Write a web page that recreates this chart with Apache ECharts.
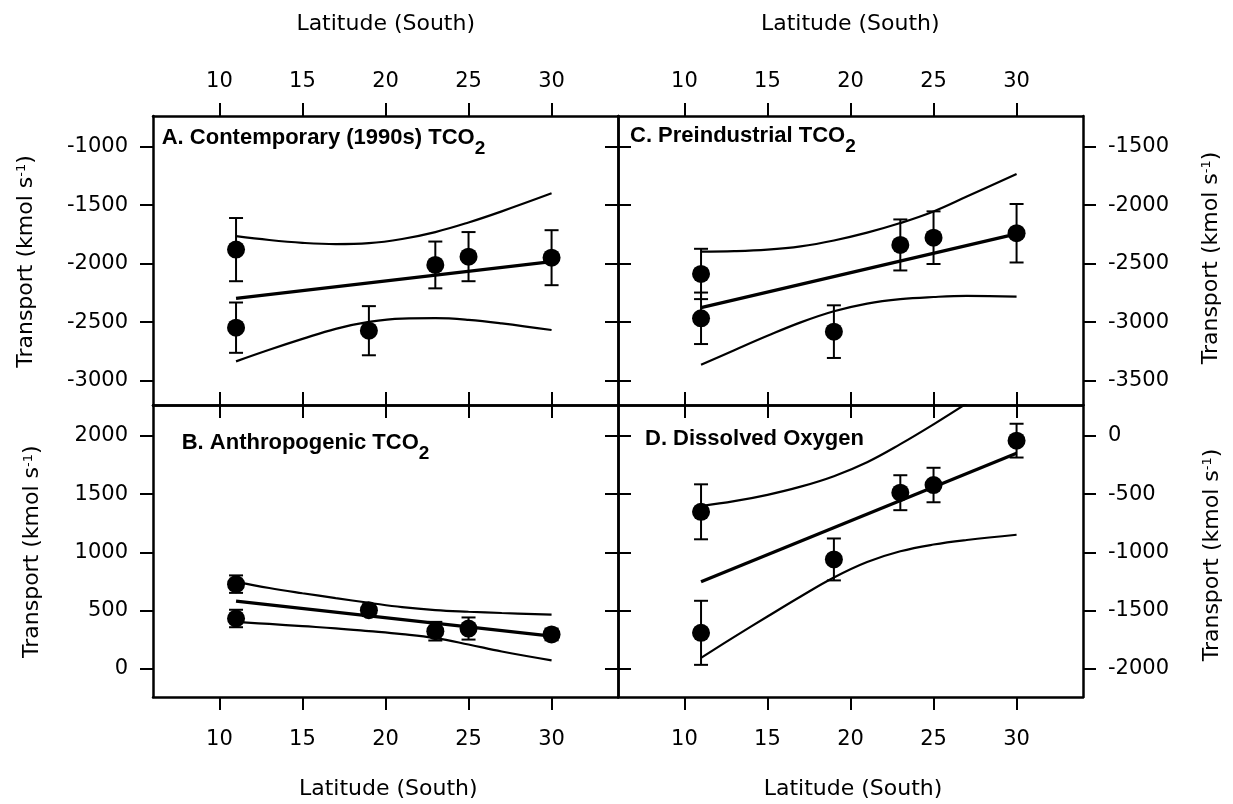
<!DOCTYPE html>
<html><head><meta charset="utf-8">
<script src="https://cdn.jsdelivr.net/npm/echarts@6/dist/echarts.min.js"></script>
<style>html,body{margin:0;padding:0;background:#fff}#c{width:1233px;height:804px}</style>
</head><body><div id="c"></div>
<script>
// ---- data ----
const pointLat = [11, 11, 19, 23, 25, 30];
const aVal = [-1880, -2547, -2573, -2011, -1940, -1949];
const aErr = [270, 215, 210, 200, 210, 235];
const bVal = [728, 433, 504, 324, 347, 296];
const bErr = [75, 75, 50, 80, 95, 50];
const cVal = [-2588, -2967, -3081, -2340, -2278, -2240];
const cErr = [215, 220, 225, 218, 225, 250];
const dVal = [-651, -1690, -1060, -487, -421, -40];
const dErr = [236, 275, 180, 150, 148, 145];

const fitLat = [11, 30];
const aFit = [-2296, -1983];
const bFit = [582, 281];
const cFit = [-2876, -2246];
const dFit = [-1252, -149];

const ciLat = [11, 13, 15, 17, 19, 21, 23, 25, 27, 30];
const aUpper = [-1765, -1798, -1822, -1833, -1825, -1789, -1730, -1648, -1553, -1399];
const aLower = [-2835, -2736, -2643, -2557, -2498, -2469, -2466, -2480, -2510, -2567];
const bUpper = [748, 695, 650, 608, 568, 530, 505, 491, 480, 467];
const bLower = [404, 386, 367, 349, 325, 299, 265, 210, 150, 74];
const cUpper = [-2397, -2393, -2380, -2352, -2302, -2235, -2153, -2054, -1927, -1733];
const cLower = [-3365, -3240, -3117, -3002, -2907, -2841, -2803, -2785, -2776, -2782];
const dUpper = [-602, -560, -505, -435, -345, -225, -70, 100, 280, 560];
const dLower = [-1905, -1725, -1550, -1378, -1215, -1082, -990, -932, -893, -848];

const xTicks = [10, 15, 20, 25, 30];
const yTicksA = [-3000, -2500, -2000, -1500, -1000];
const yTicksB = [0, 500, 1000, 1500, 2000];
const yTicksC = [-3500, -3000, -2500, -2000, -1500];
const yTicksD = [-2000, -1500, -1000, -500, 0];

const titleA = 'A. Contemporary (1990s) TCO';
const titleB = 'B. Anthropogenic TCO';
const titleC = 'C. Preindustrial TCO';
const titleD = 'D. Dissolved Oxygen';
const xName = 'Latitude (South)';
const yName = 'Transport (kmol s';

// ---- chart ----
const TICKFONT = 'DejaVu Sans';
const panels = [
  {grid:{left:153, top:116, width:465, height:289}, val:aVal, err:aErr, fit:aFit, up:aUpper, lo:aLower, yMin:-3208, yMax:-738, yTicks:yTicksA, top:'out', bottom:'in', left:'out', right:'in'},
  {grid:{left:153, top:405, width:465, height:292}, val:bVal, err:bErr, fit:bFit, up:bUpper, lo:bLower, yMin:-241, yMax:2266, yTicks:yTicksB, top:'in', bottom:'out', left:'out', right:'in'},
  {grid:{left:618, top:116, width:465, height:289}, val:cVal, err:cErr, fit:cFit, up:cUpper, lo:cLower, yMin:-3708, yMax:-1238, yTicks:yTicksC, top:'out', bottom:'in', left:'in', right:'out'},
  {grid:{left:618, top:405, width:465, height:292}, val:dVal, err:dErr, fit:dFit, up:dUpper, lo:dLower, yMin:-2241, yMax:266, yTicks:yTicksD, top:'in', bottom:'out', left:'in', right:'out'}
];

function axisCommon(side, ticks, margin) {
  const out = side === 'out';
  return {
    axisLine: {show: true, onZero: false, lineStyle: {color: '#000', width: 2.5}},
    axisTick: {show: true, inside: !out, length: 13, customValues: ticks, lineStyle: {color: '#000', width: 2}},
    axisLabel: {show: out, customValues: ticks, margin: margin, color: '#000', fontSize: 21, fontFamily: TICKFONT, formatter: v => String(v)},
    splitLine: {show: false}
  };
}

const grids = [], xAxes = [], yAxes = [], series = [];
function errRender(params, api) {
  const x = api.value(0), y = api.value(1), e = api.value(2);
  const t = api.coord([x, y + e]);
  const b = api.coord([x, y - e]);
  const hw = 7;
  const st = {stroke: '#000', lineWidth: 2};
  return {type: 'group', children: [
    {type: 'line', shape: {x1: t[0], y1: t[1], x2: b[0], y2: b[1]}, style: st},
    {type: 'line', shape: {x1: t[0] - hw, y1: t[1], x2: t[0] + hw, y2: t[1]}, style: st},
    {type: 'line', shape: {x1: b[0] - hw, y1: b[1], x2: b[0] + hw, y2: b[1]}, style: st}
  ]};
}

panels.forEach((p, i) => {
  grids.push(p.grid);
  xAxes.push(Object.assign({type: 'value', gridIndex: i, position: 'top', min: 6, max: 34}, axisCommon(p.top, xTicks, 24)));
  xAxes.push(Object.assign({type: 'value', gridIndex: i, position: 'bottom', min: 6, max: 34}, axisCommon(p.bottom, xTicks, 32)));
  yAxes.push(Object.assign({type: 'value', gridIndex: i, position: 'left', min: p.yMin, max: p.yMax}, axisCommon(p.left, p.yTicks, 25)));
  yAxes.push(Object.assign({type: 'value', gridIndex: i, position: 'right', min: p.yMin, max: p.yMax}, axisCommon(p.right, p.yTicks, 25)));
  const xi = 2 * i + 1, yi = 2 * i;
  const lineBase = {type: 'line', xAxisIndex: xi, yAxisIndex: yi, showSymbol: false, symbol: 'none', silent: true, clip: true};
  series.push(Object.assign({}, lineBase, {smooth: 0.4, data: ciLat.map((x, k) => [x, p.up[k]]), lineStyle: {color: '#000', width: 2.2}}));
  series.push(Object.assign({}, lineBase, {smooth: 0.4, data: ciLat.map((x, k) => [x, p.lo[k]]), lineStyle: {color: '#000', width: 2.2}}));
  series.push(Object.assign({}, lineBase, {data: fitLat.map((x, k) => [x, p.fit[k]]), lineStyle: {color: '#000', width: 3.3}}));
  series.push({type: 'custom', xAxisIndex: xi, yAxisIndex: yi, renderItem: errRender, silent: true,
    encode: {x: 0, y: 1}, data: pointLat.map((x, k) => [x, p.val[k], p.err[k]]), z: 3});
  series.push({type: 'scatter', xAxisIndex: xi, yAxisIndex: yi, symbol: 'circle', symbolSize: 18, silent: true,
    itemStyle: {color: '#000', opacity: 1}, data: pointLat.map((x, k) => [x, p.val[k]]), z: 4});
});

const titleRich = {
  t: {fontFamily: 'Liberation Sans', fontWeight: 'bold', fontSize: 22, lineHeight: 22, verticalAlign: 'top', fill: '#000'},
  s: {fontFamily: 'Liberation Sans', fontWeight: 'bold', fontSize: 19, lineHeight: 20, padding: [13, 0, 0, 0], verticalAlign: 'top', fill: '#000'}
};
function panelTitle(txt, sub, x, y) {
  return {type: 'text', x: x, y: y, silent: true, style: {
    text: '{t|' + txt + '}' + (sub ? '{s|' + sub + '}' : ''), rich: titleRich, align: 'left', verticalAlign: 'top'}};
}
const nameRich = {
  a: {fontFamily: 'DejaVu Sans', fontSize: 22, lineHeight: 26, verticalAlign: 'top', fill: '#000'},
  b: {fontFamily: 'DejaVu Sans', fontSize: 13, lineHeight: 12, verticalAlign: 'top', fill: '#000'}
};
function yTitle(x, y) {
  return {type: 'text', x: x, y: y, rotation: Math.PI / 2, silent: true, style: {
    text: '{a|' + yName + '}{b|-1}{a|)}', rich: nameRich, align: 'center', verticalAlign: 'middle'}};
}
function xTitle(x, y) {
  return {type: 'text', x: x, y: y, silent: true, style: {
    text: xName, fontFamily: 'DejaVu Sans', fontSize: 22, fill: '#000', align: 'center', verticalAlign: 'middle'}};
}

const graphic = [
  panelTitle(titleA, '2', 161.7, 126.5),
  panelTitle(titleB, '2', 181.7, 431.5),
  panelTitle(titleC, '2', 630, 124.5),
  panelTitle(titleD, '', 645, 427.8),
  xTitle(385.7, 24), xTitle(850.3, 24), xTitle(388.3, 789.5), xTitle(853, 789.5),
  yTitle(28, 261.5), yTitle(34.7, 551.7), yTitle(1213.3, 258), yTitle(1214, 555)
];

const chart = echarts.init(document.getElementById('c'), null, {renderer: 'canvas'});
chart.setOption({
  animation: false,
  backgroundColor: '#fff',
  grid: grids, xAxis: xAxes, yAxis: yAxes, series: series, graphic: graphic
});
</script></body></html>
